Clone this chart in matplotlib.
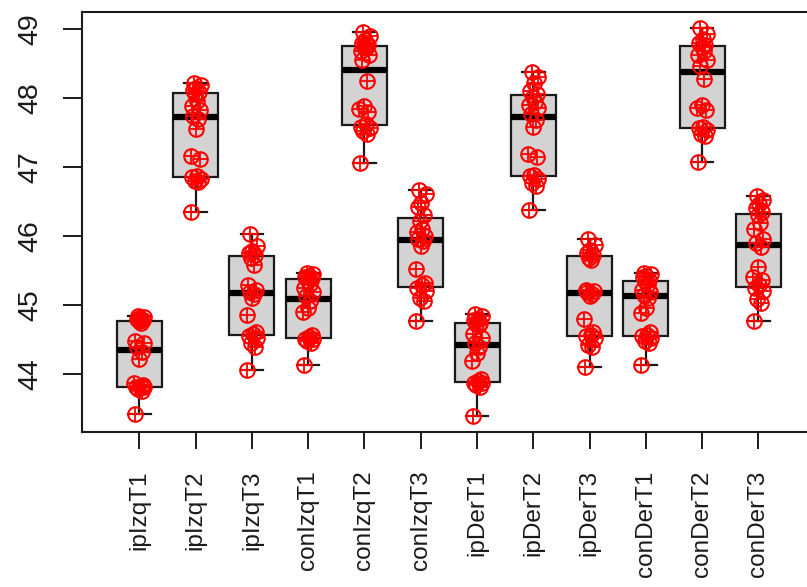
import numpy as np
import matplotlib
matplotlib.use("Agg")
import matplotlib.pyplot as plt

plt.rcParams["font.family"] = ["Liberation Sans", "DejaVu Sans"]

groups = ["ipIzqT1", "ipIzqT2", "ipIzqT3", "conIzqT1", "conIzqT2", "conIzqT3",
          "ipDerT1", "ipDerT2", "ipDerT3", "conDerT1", "conDerT2", "conDerT3"]

ipIzqT1 = [43.42, 43.75, 43.78, 43.80, 43.80, 43.81, 43.84, 43.86, 44.22, 44.32,
           44.38, 44.45, 44.48, 44.74, 44.76, 44.78, 44.80, 44.81, 44.82, 44.83]
ipIzqT2 = [46.35, 46.78, 46.80, 46.83, 46.85, 46.86, 47.12, 47.15, 47.55, 47.70,
           47.74, 47.82, 47.88, 47.95, 48.05, 48.08, 48.12, 48.15, 48.18, 48.22]
ipIzqT3 = [44.06, 44.38, 44.45, 44.52, 44.55, 44.57, 44.60, 44.85, 45.10, 45.15,
           45.19, 45.22, 45.28, 45.58, 45.68, 45.72, 45.75, 45.78, 45.85, 46.02]
conIzqT1 = [44.12, 44.45, 44.48, 44.50, 44.51, 44.53, 44.56, 44.90, 44.95, 45.05,
            45.13, 45.18, 45.25, 45.30, 45.35, 45.39, 45.40, 45.42, 45.44, 45.46]
conIzqT2 = [47.05, 47.48, 47.52, 47.56, 47.58, 47.62, 47.80, 47.84, 47.88, 48.25,
            48.55, 48.62, 48.68, 48.72, 48.74, 48.76, 48.80, 48.84, 48.90, 48.95]
conIzqT3 = [44.77, 45.05, 45.10, 45.20, 45.24, 45.28, 45.32, 45.52, 45.85, 45.92,
            45.96, 46.00, 46.05, 46.10, 46.22, 46.30, 46.42, 46.48, 46.60, 46.67]
ipDerT1 = [43.38, 43.80, 43.84, 43.86, 43.87, 43.89, 43.93, 44.18, 44.30, 44.38,
           44.44, 44.52, 44.58, 44.70, 44.72, 44.74, 44.78, 44.80, 44.84, 44.86]
ipDerT2 = [46.38, 46.72, 46.76, 46.82, 46.86, 46.88, 47.14, 47.18, 47.58, 47.68,
           47.76, 47.86, 47.90, 47.94, 48.02, 48.06, 48.10, 48.22, 48.30, 48.37]
ipDerT3 = [44.09, 44.38, 44.42, 44.52, 44.54, 44.56, 44.60, 44.80, 45.12, 45.15,
           45.19, 45.20, 45.22, 45.65, 45.68, 45.72, 45.75, 45.80, 45.86, 45.96]
conDerT1 = [44.12, 44.44, 44.48, 44.52, 44.54, 44.56, 44.60, 44.88, 44.95, 45.10,
            45.14, 45.18, 45.22, 45.30, 45.34, 45.36, 45.40, 45.42, 45.44, 45.46]
conDerT2 = [47.07, 47.44, 47.48, 47.54, 47.56, 47.58, 47.82, 47.86, 47.90, 48.28,
            48.46, 48.55, 48.62, 48.68, 48.74, 48.76, 48.80, 48.86, 48.92, 49.02]
conDerT3 = [44.76, 45.02, 45.08, 45.20, 45.24, 45.28, 45.36, 45.40, 45.55, 45.84,
            45.90, 45.95, 46.10, 46.18, 46.30, 46.34, 46.40, 46.46, 46.52, 46.58]

series = [ipIzqT1, ipIzqT2, ipIzqT3, conIzqT1, conIzqT2, conIzqT3,
          ipDerT1, ipDerT2, ipDerT3, conDerT1, conDerT2, conDerT3]
yticks = [44, 45, 46, 47, 48, 49]


def tukey_stats(values, label):
    """Five-number summary with Tukey hinges and 1.5*IQR whiskers."""
    x = np.sort(np.asarray(values, dtype=float))
    n = len(x)
    n4 = np.floor((n + 3) / 2) / 2
    d = np.array([1, n4, (n + 1) / 2, n + 1 - n4, n])
    fn = 0.5 * (x[np.floor(d).astype(int) - 1] + x[np.ceil(d).astype(int) - 1])
    q1, med, q3 = fn[1], fn[2], fn[3]
    iqr = q3 - q1
    lo = x[x >= q1 - 1.5 * iqr].min()
    hi = x[x <= q3 + 1.5 * iqr].max()
    return dict(label=label, med=med, q1=q1, q3=q3, whislo=lo, whishi=hi, fliers=[])


fig = plt.figure(figsize=(8.07, 5.87), dpi=100)
W, H = 807, 587
# plot region in pixels: left spine at x=82, top at y=12, bottom at y=432
ax = fig.add_axes([82 / W, (H - 432) / H, (813.5 - 82) / W, (432 - 12) / H])

positions = np.arange(1, len(series) + 1)
stats = [tukey_stats(v, g) for v, g in zip(series, groups)]

ax.bxp(stats, positions=positions, widths=0.8, patch_artist=True,
       showfliers=False, showcaps=True,
       boxprops=dict(facecolor="#d3d3d3", edgecolor="#1a1a1a", linewidth=1.6),
       medianprops=dict(color="black", linewidth=4.5, solid_capstyle="butt"),
       whiskerprops=dict(color="#1a1a1a", linewidth=1.6),
       capprops=dict(color="#1a1a1a", linewidth=1.6),
       capwidths=0.4, zorder=2)

# small deterministic horizontal spread for the strip points
spread = np.array([-0.08, 0.05, -0.02, 0.09, -0.06, 0.02, 0.07, -0.09, 0.0, 0.04,
                   -0.04, 0.08, -0.07, 0.03, -0.01, 0.06, -0.05, 0.01, 0.09, -0.03])
for i, vals in enumerate(series):
    xs = positions[i] + spread[:len(vals)]
    ax.plot(xs, vals, linestyle="none", marker="o", markersize=10.5,
            markerfacecolor="none", markeredgecolor="red", markeredgewidth=1.5,
            zorder=4)
    ax.plot(xs, vals, linestyle="none", marker="+", markersize=10.5,
            markeredgecolor="red", markeredgewidth=1.3, zorder=4)

allv = np.concatenate([np.asarray(v) for v in series])
r = allv.max() - allv.min()
ax.set_ylim(allv.min() - 0.04 * r, allv.max() + 0.04 * r)
ax.set_xlim(-0.02, 12.98)

ax.set_yticks(yticks)
ax.set_yticklabels([str(t) for t in yticks], rotation=90, va="center",
                   fontsize=20.5, color="#1a1a1a")
ax.set_xticks(positions)
ax.set_xticklabels(groups, rotation=90, ha="center", va="top",
                   fontsize=17.5, color="#1a1a1a")
ax.tick_params(axis="y", length=13.5, width=1.4, pad=14, color="#1a1a1a")
ax.tick_params(axis="x", length=12.5, width=1.4, pad=15, color="#1a1a1a")

for s in ax.spines.values():
    s.set_linewidth(1.5)
    s.set_color("#1a1a1a")

fig.savefig("out.png", dpi=100)
